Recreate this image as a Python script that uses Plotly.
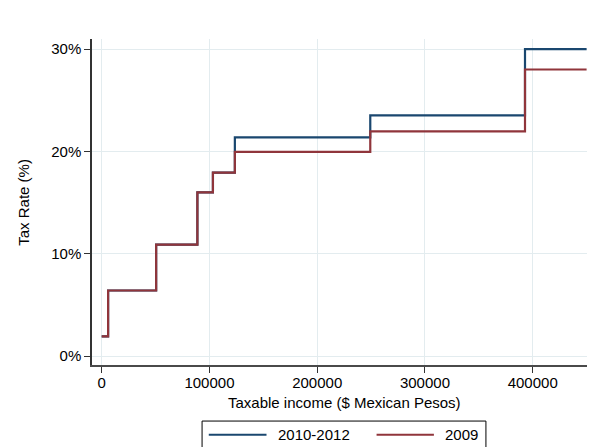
import plotly.graph_objects as go

# Data
thresholds = [0, 5952.85, 50524.93, 88793.05, 103218.01, 123580.21, 249243.49, 392841.97, 450000]
rates_2010_2012 = [1.92, 6.40, 10.88, 16.00, 17.92, 21.36, 23.52, 30.00, 30.00]
rates_2009 = [1.92, 6.40, 10.88, 16.00, 17.92, 19.94, 21.95, 28.00, 28.00]
x_ticks = [0, 100000, 200000, 300000, 400000]
y_ticks = [0, 10, 20, 30]
series_names = ["2010-2012", "2009"]
colors = ["#1a476f", "#90353b"]

# The page body has an 8px margin; build the figure so it fills the window exactly.
O = 8
W, H = 595 - O, 447 - O
L, R, T, B = 92.3 - O, 0, 39 - O, 447 - 364.7
pw, ph = W - L - R, H - T - B

def px(x):
    return (x - O - L) / pw

def py(y):
    return (H - B - (y - O)) / ph

fig = go.Figure()
for name, vals, c in zip(series_names, [rates_2010_2012, rates_2009], colors):
    fig.add_trace(go.Scatter(x=thresholds, y=vals, mode="lines", line_shape="hv",
                             line=dict(color=c, width=2.2), name=name, showlegend=False))

font = "Liberation Sans, Arial, Helvetica, sans-serif"
fig.update_layout(
    width=W, height=H,
    margin=dict(l=L, r=R, t=T, b=B, autoexpand=False),
    paper_bgcolor="white", plot_bgcolor="white",
    font=dict(family=font, size=15, color="black"),
    showlegend=False,
)
fig.update_xaxes(range=[-9000, 457800], tickvals=x_ticks, ticktext=[str(v) for v in x_ticks],
                 showgrid=True, gridcolor="#e3ecef", gridwidth=1, zeroline=False,
                 showline=True, linecolor="#4a4a4a", linewidth=1.5,
                 ticks="outside", ticklen=6, tickcolor="#333333", tickwidth=1,
                 ticklabelstandoff=-3)
fig.update_yaxes(range=[-0.88, 30.98], tickvals=y_ticks, ticktext=[f"{v}%" for v in y_ticks],
                 showgrid=True, gridcolor="#e3ecef", gridwidth=1, zeroline=False,
                 showline=True, linecolor="#333333", linewidth=1.5,
                 ticks="outside", ticklen=6, tickcolor="#333333", tickwidth=1)

# Axis titles
fig.add_annotation(text="Taxable income ($ Mexican Pesos)", xref="paper", yref="paper",
                   x=px(344.7), y=py(402), showarrow=False, xanchor="center", yanchor="middle",
                   font=dict(size=15))
fig.add_annotation(text="Tax Rate (%)", xref="paper", yref="paper", textangle=-90,
                   x=px(23), y=py(202), showarrow=False, xanchor="center", yanchor="middle",
                   font=dict(size=15))

# Legend box (manual)
fig.add_shape(type="rect", xref="paper", yref="paper", x0=px(202.3), x1=px(486),
              y0=py(420.7), y1=py(475), line=dict(color="black", width=1), fillcolor="white")
legend_items = [(209, 266.7, 276), (376.7, 434, 443.3)]
for (a, b, t), name, c in zip(legend_items, series_names, colors):
    fig.add_shape(type="line", xref="paper", yref="paper", x0=px(a), x1=px(b),
                  y0=py(434.3), y1=py(434.3), line=dict(color=c, width=2))
    fig.add_annotation(text=name, xref="paper", yref="paper", x=px(t), y=py(434.3),
                       showarrow=False, xanchor="left", yanchor="middle", font=dict(size=15))

fig.write_html("out.html")
